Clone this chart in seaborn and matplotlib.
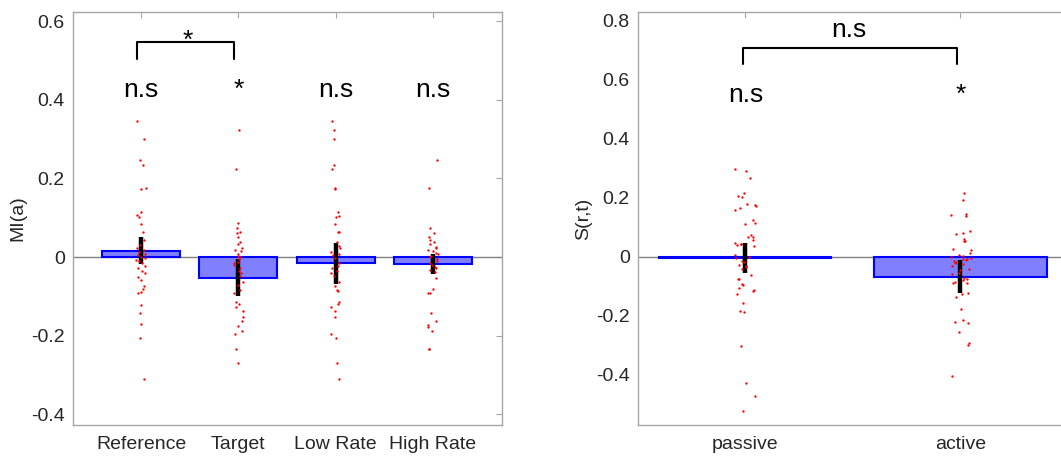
import numpy as np
import pandas as pd
import matplotlib
matplotlib.use("Agg")
import matplotlib.pyplot as plt
import seaborn as sns

sns.set_theme(style="white")
plt.rcParams["font.family"] = ["Liberation Sans", "DejaVu Sans"]
plt.rcParams["axes.unicode_minus"] = False

# ---- left panel: modulation index per condition ----
mi_conditions = ["Reference", "Target", "Low Rate", "High Rate"]
mi_means = [0.016, -0.052, -0.016, -0.018]
mi_sem = [0.034, 0.047, 0.053, 0.025]
mi_reference = [0.347, 0.301, 0.248, 0.233, 0.175, 0.174, 0.114, 0.107, 0.102, 0.083,
                0.064, 0.043, 0.030, 0.022, 0.013, 0.009, 0.005, 0.001, -0.003, -0.008,
                -0.016, -0.022, -0.027, -0.035, -0.040, -0.050, -0.058, -0.073, -0.081,
                -0.090, -0.091, -0.121, -0.141, -0.171, -0.205, -0.310, 0.018, -0.010]
mi_target = [0.324, 0.224, 0.086, 0.075, 0.064, 0.062, 0.052, 0.039, 0.033, 0.022,
             0.019, 0.016, 0.009, 0.003, -0.001, -0.006, -0.012, -0.016, -0.020, -0.029,
             -0.035, -0.048, -0.063, -0.084, -0.092, -0.114, -0.120, -0.126, -0.137,
             -0.152, -0.163, -0.176, -0.187, -0.196, -0.233, -0.270, -0.040, -0.070]
mi_low = [0.347, 0.323, 0.301, 0.233, 0.224, 0.176, 0.172, 0.115, 0.105, 0.102, 0.084,
          0.064, 0.064, 0.039, 0.029, 0.022, 0.013, 0.009, 0.005, -0.003, -0.016, -0.022,
          -0.029, -0.035, -0.040, -0.048, -0.063, -0.074, -0.084, -0.086, -0.114, -0.120,
          -0.126, -0.137, -0.152, -0.196, -0.205, -0.270, -0.310]
mi_high = [0.248, 0.175, 0.075, 0.062, 0.052, 0.043, 0.039, 0.033, 0.026, 0.022, 0.019,
           0.016, 0.011, 0.007, 0.003, -0.001, -0.006, -0.009, -0.014, -0.020, -0.024,
           -0.029, -0.033, -0.037, -0.052, -0.081, -0.091, -0.092, -0.141, -0.163,
           -0.173, -0.178, -0.189, -0.233, -0.234]

# ---- right panel: selectivity by behavioural state ----
s_conditions = ["passive", "active"]
s_means = [-0.004, -0.068]
s_sem = [0.050, 0.056]
s_passive = [0.297, 0.291, 0.268, 0.215, 0.205, 0.202, 0.180, 0.175, 0.172, 0.165, 0.160,
             0.126, 0.116, 0.111, 0.074, 0.069, 0.068, 0.056, 0.047, 0.045, 0.042, 0.040,
             0.037, 0.005, 0.001, -0.004, -0.014, -0.016, -0.028, -0.031, -0.035, -0.040,
             -0.063, -0.075, -0.076, -0.093, -0.095, -0.107, -0.112, -0.116, -0.127,
             -0.158, -0.184, -0.187, -0.301, -0.429, -0.471, -0.524]
s_active = [0.215, 0.193, 0.144, 0.141, 0.138, 0.089, 0.082, 0.076, 0.062, 0.054, 0.053,
            0.028, 0.023, 0.014, 0.007, 0.003, 0.001, -0.004, -0.006, -0.008, -0.011,
            -0.014, -0.017, -0.020, -0.025, -0.031, -0.040, -0.045, -0.054, -0.057,
            -0.071, -0.074, -0.079, -0.085, -0.087, -0.090, -0.121, -0.125, -0.137,
            -0.178, -0.214, -0.221, -0.224, -0.254, -0.292, -0.299, -0.404]

BAR_FACE = "#8080ff"
BAR_EDGE = "#0000ff"
FRAME = "#a6a6a6"
TEXT = "#262626"

np.random.seed(7)

fig = plt.figure(figsize=(10.61, 4.57), dpi=100)
ax1 = fig.add_axes([0.0688, 0.070, 0.4043, 0.9037])
ax2 = fig.add_axes([0.6013, 0.070, 0.4053, 0.9037])


def panel(ax, cats, means, sem, groups, ylim, yticks, ylabel):
    ax.axhline(0, color="#808080", lw=1.0, zorder=1)
    sns.barplot(x=cats, y=means, order=cats, ax=ax, color=BAR_FACE, saturation=1,
                edgecolor=BAR_EDGE, linewidth=1.5, width=0.8, errorbar=None, zorder=2)
    ax.errorbar(np.arange(len(cats)), means, yerr=sem, fmt="none", ecolor="black",
                elinewidth=3.2, capsize=0, zorder=3)
    long = pd.DataFrame({
        "cond": np.concatenate([[c] * len(g) for c, g in zip(cats, groups)]),
        "val": np.concatenate(groups),
    })
    sns.stripplot(data=long, x="cond", y="val", order=cats, ax=ax, color="red",
                  size=1.7, linewidth=0, jitter=0.05, zorder=4)
    ax.set_ylim(*ylim)
    ax.set_yticks(yticks)
    ax.set_yticklabels([("%g" % t) if abs(t) > 1e-9 else "0" for t in yticks])
    ax.set_xlabel("")
    ax.set_ylabel(ylabel, fontsize=14, color=TEXT, labelpad=3)
    for s in ax.spines.values():
        s.set_visible(True)
        s.set_color(FRAME)
        s.set_linewidth(1.0)
    ax.tick_params(direction="in", top=True, right=True, length=4, width=0.8,
                   color=FRAME, labelsize=14, labelcolor=TEXT)
    ax.tick_params(axis="y", pad=6)
    ax.tick_params(axis="x", pad=8)


panel(ax1, mi_conditions, mi_means, mi_sem,
      [mi_reference, mi_target, mi_low, mi_high],
      (-0.427, 0.623), np.round(np.arange(-0.4, 0.61, 0.2), 1), "MI(a)")
ax1.set_xlim(-0.70, 3.71)

panel(ax2, s_conditions, s_means, s_sem, [s_passive, s_active],
      (-0.57, 0.83), np.round(np.arange(-0.4, 0.81, 0.2), 1), "S(r,t)")
ax2.set_xlim(-0.5, 1.5)

FS = 19
# significance labels, left panel
for i, lab in enumerate(["n.s", "*", "n.s", "n.s"]):
    ax1.text(i, 0.407, lab, ha="center", va="baseline", fontsize=FS, color="black")
ax1.plot([-0.04, -0.04, 0.96, 0.96], [0.504, 0.547, 0.547, 0.504], color="black", lw=1.5)
ax1.text(0.48, 0.533, "*", ha="center", va="baseline", fontsize=FS, color="black")

# significance labels, right panel
for i, lab in enumerate(["n.s", "*"]):
    ax2.text(i, 0.524, lab, ha="center", va="baseline", fontsize=FS, color="black")
ax2.plot([-0.01, -0.01, 0.985, 0.985], [0.653, 0.707, 0.707, 0.653], color="black", lw=1.5)
ax2.text(0.48, 0.746, "n.s", ha="center", va="baseline", fontsize=FS, color="black")

fig.savefig("out.png", dpi=100)
